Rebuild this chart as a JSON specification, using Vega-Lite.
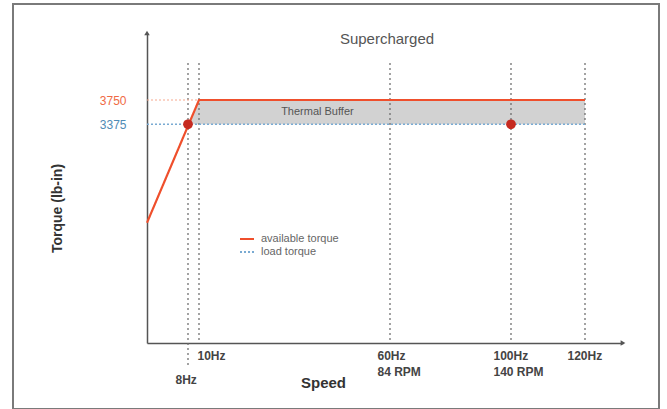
{
  "$schema": "https://vega.github.io/schema/vega-lite/v6.json",
  "width": 646,
  "height": 405,
  "autosize": {"type": "none"},
  "padding": {"left": 13, "top": 4, "right": 8, "bottom": 0},
  "background": "white",
  "config": {
    "view": {"stroke": "#7a7a7a", "strokeWidth": 2},
    "font": "Liberation Sans"
  },
  "title": {
    "text": "Supercharged",
    "anchor": "middle",
    "dx": 51,
    "offset": -50,
    "baseline": "middle",
    "fontSize": 15,
    "fontWeight": "normal",
    "color": "#555555"
  },
  "datasets": {
    "curves": [
      {"series": "available torque", "speed": 0, "torque": 1856},
      {"series": "available torque", "speed": 10, "torque": 3750},
      {"series": "available torque", "speed": 120, "torque": 3750},
      {"series": "load torque", "speed": 0, "torque": 3375},
      {"series": "load torque", "speed": 120, "torque": 3375}
    ],
    "band": [
      {"speed": 8, "torque": 3375, "torque2": 3375},
      {"speed": 10, "torque": 3750, "torque2": 3375},
      {"speed": 120, "torque": 3750, "torque2": 3375}
    ],
    "guides": [
      {"speed": 8, "torque": 4320, "torque2": -340},
      {"speed": 10, "torque": 4320, "torque2": 0},
      {"speed": 60, "torque": 4320, "torque2": 0},
      {"speed": 100, "torque": 4320, "torque2": 0},
      {"speed": 120, "torque": 4320, "torque2": 0}
    ],
    "level": [
      {"speed": 0, "torque": 3750},
      {"speed": 10, "torque": 3750}
    ],
    "points": [
      {"speed": 8, "torque": 3375},
      {"speed": 100, "torque": 3375}
    ],
    "notes": [
      {"speed": 41, "torque": 3560, "note": "Thermal Buffer"}
    ]
  },
  "encoding": {
    "x": {
      "field": "speed",
      "type": "quantitative",
      "scale": {"domain": [0, 8, 10, 60, 100, 120, 130], "range": [134, 175, 186, 377, 498, 572, 610], "nice": false, "zero": false},
      "axis": {
        "orient": "bottom",
        "offset": -66,
        "values": [8, 10, 60, 100, 120],
        "labelExpr": "datum.value == 60 ? ['60Hz', '84 RPM'] : datum.value == 100 ? ['100Hz', '140 RPM'] : datum.value + 'Hz'",
        "grid": false,
        "ticks": false,
        "domainColor": "#555555",
        "domainWidth": 1.5,
        "labelAlign": "left",
        "labelOffset": {"condition": [{"test": "datum.value == 10", "value": -2}, {"test": "datum.value >= 100", "value": -18}], "value": -13},
        "labelPadding": {"condition": {"test": "datum.value == 8", "value": 31}, "value": 7},
        "labelFontSize": 12,
        "labelFontWeight": "bold",
        "labelColor": "#444444",
        "labelLineHeight": 16,
        "labelOverlap": false,
        "labelFlush": false,
        "labelBound": false,
        "title": "Speed",
        "titleX": 310,
        "titleY": 39,
        "titleBaseline": "middle",
        "titleAlign": "center",
        "titleFontSize": 15,
        "titleFontWeight": "bold",
        "titleColor": "#333333"
      }
    },
    "y": {
      "field": "torque",
      "type": "quantitative",
      "scale": {"domain": [0, 4784], "range": [339, 29], "nice": false, "zero": false},
      "axis": {
        "orient": "left",
        "offset": -134,
        "values": [3375, 3750],
        "format": "d",
        "grid": false,
        "ticks": false,
        "domainColor": "#555555",
        "domainWidth": 1.5,
        "labelFontSize": 12,
        "labelPadding": 21,
        "labelColor": {"condition": {"test": "datum.value == 3750", "value": "#f06a45"}, "value": "#4f8bb5"},
        "title": "Torque (lb-in)",
        "titleX": -90,
        "titleY": 204,
        "titleAngle": 270,
        "titleBaseline": "middle",
        "titleAlign": "center",
        "titleFontSize": 14,
        "titleFontWeight": "bold",
        "titleColor": "#333333"
      }
    }
  },
  "layer": [
    {
      "data": {"name": "band"},
      "mark": {"type": "area", "color": "#d2d2d2", "opacity": 1},
      "encoding": {"y2": {"field": "torque2"}}
    },
    {
      "data": {"name": "guides"},
      "mark": {"type": "rule", "color": "#666666", "strokeWidth": 1.2, "strokeDash": [2, 3]},
      "encoding": {"y2": {"field": "torque2"}}
    },
    {
      "data": {"name": "level"},
      "mark": {"type": "line", "color": "#f6a88e", "strokeWidth": 1, "strokeDash": [2, 2]},
      "encoding": {}
    },
    {
      "data": {"name": "curves"},
      "transform": [{"filter": "datum.series == 'load torque'"}],
      "mark": {"type": "line", "strokeWidth": 1.4},
      "encoding": {
        "color": {
          "field": "series", "type": "nominal",
          "scale": {"domain": ["available torque", "load torque"], "range": ["#ef4f2c", "#79aad2"]},
          "legend": {"orient": "none", "legendX": 226, "legendY": 227, "title": null, "symbolType": "stroke", "symbolSize": 196, "symbolStrokeWidth": 2, "labelFontSize": 11, "labelColor": "#666666", "labelOffset": 6, "rowPadding": 0, "padding": 0}
        },
        "strokeDash": {
          "field": "series", "type": "nominal",
          "scale": {"domain": ["available torque", "load torque"], "range": [[1, 0], [2, 2]]},
          "legend": {"orient": "none", "legendX": 226, "legendY": 227, "title": null, "symbolType": "stroke", "symbolSize": 196, "symbolStrokeWidth": 2, "labelFontSize": 11, "labelColor": "#666666", "labelOffset": 6, "rowPadding": 0, "padding": 0}
        }
      }
    },
    {
      "data": {"name": "curves"},
      "transform": [{"filter": "datum.series == 'available torque'"}],
      "mark": {"type": "line", "strokeWidth": 2.2},
      "encoding": {
        "color": {"field": "series", "type": "nominal"},
        "strokeDash": {"field": "series", "type": "nominal"}
      }
    },
    {
      "data": {"name": "points"},
      "mark": {"type": "point", "filled": true, "color": "#c62a20", "opacity": 1, "size": 95}
    },
    {
      "data": {"name": "notes"},
      "mark": {"type": "text", "fontSize": 11, "color": "#555555"},
      "encoding": {"text": {"field": "note"}}
    },
    {
      "data": {"values": [{"speed": 130, "torque": 0}]},
      "mark": {"type": "point", "shape": "triangle-right", "filled": true, "color": "#555555", "opacity": 1, "size": 30}
    },
    {
      "data": {"values": [{"speed": 0, "torque": 4784}]},
      "mark": {"type": "point", "shape": "triangle-up", "filled": true, "color": "#555555", "opacity": 1, "size": 30}
    }
  ]
}
